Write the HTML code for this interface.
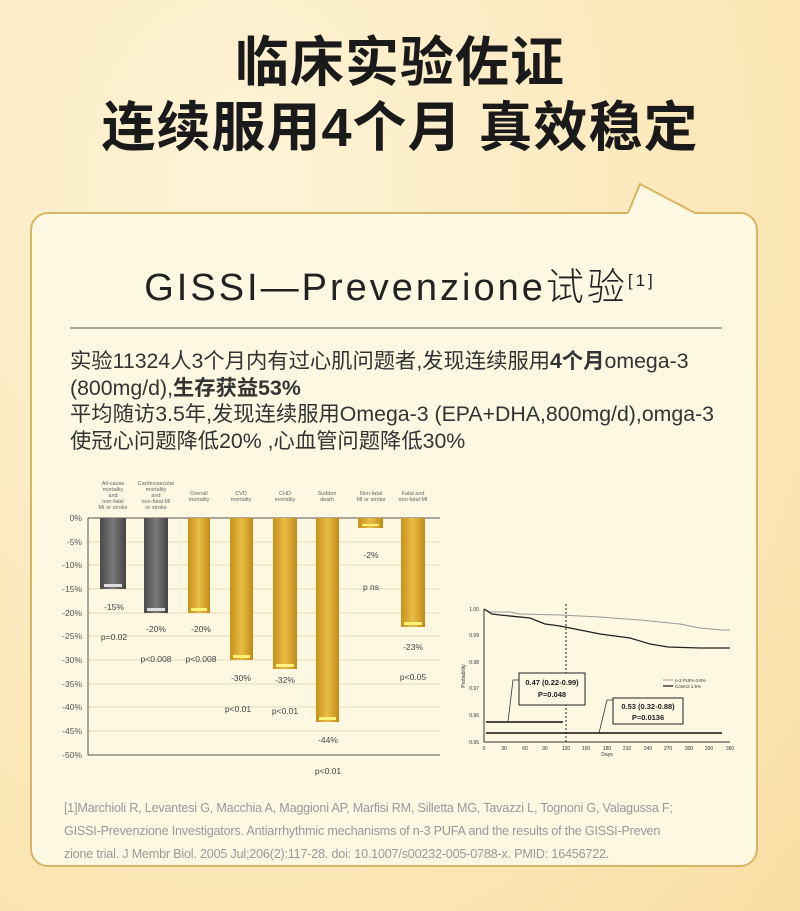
<!DOCTYPE html>
<html><head><meta charset="utf-8"><style>
body{margin:0;width:800px;height:911px;overflow:hidden;background:radial-gradient(ellipse at 30% 20%,#fdf3d6,#fbe6b4 70%,#f9dea3);font-family:"Liberation Sans","Noto Sans CJK SC",sans-serif;position:relative}
.h{position:absolute;left:0;width:800px;text-align:center;font-weight:bold;font-size:54px;color:#1a1a1a;letter-spacing:1px;line-height:60px}
.card{position:absolute;left:30px;top:212px;width:728px;height:655px;border:2px solid #d8b565;border-radius:18px;background:#fdf8e2;box-sizing:border-box}
.t{position:absolute;left:0;width:800px;top:256px;text-align:center;font-size:38px;color:#222;letter-spacing:3px;font-family:"Liberation Sans","Noto Sans CJK SC",sans-serif;font-weight:300}
.p{position:absolute;left:70px;top:348px;font-size:21.3px;line-height:26.5px;color:#333;width:700px;white-space:nowrap}
.ref{position:absolute;left:64px;top:797px;font-size:12.6px;line-height:23px;color:#999;white-space:nowrap;letter-spacing:-0.2px}
</style></head><body>
<div class="h" style="top:33px">临床实验佐证</div>
<div class="h" style="top:98px">连续服用4个月 真效稳定</div>
<div class="card"></div>
<svg style="position:absolute;left:0;top:0" width="800" height="911">
<polygon points="628,214 640,184 695,214" fill="#fdf8e2"/>
<polyline points="628,213 640,184 695,213" fill="none" stroke="#d8b565" stroke-width="2"/>
<line x1="70" y1="328" x2="722" y2="328" stroke="#555" stroke-width="1"/>
</svg>
<div class="t">GISSI—Prevenzione试验<sup style="font-size:17px;vertical-align:14px">[1]</sup></div>
<div class="p">实验11324人3个月内有过心肌问题者,发现连续服用<b>4个月</b>omega-3<br>(800mg/d),<b>生存获益53%</b><br>平均随访3.5年,发现连续服用Omega-3 (EPA+DHA,800mg/d),omga-3<br>使冠心问题降低20% ,心血管问题降低30%</div>
<svg style="position:absolute;left:0;top:0" width="800" height="911" font-family="Liberation Sans,sans-serif">
<defs>
<linearGradient id="g" x1="0" x2="1"><stop offset="0" stop-color="#c8901a"/><stop offset=".5" stop-color="#e9bd45"/><stop offset="1" stop-color="#c28a17"/></linearGradient>
<linearGradient id="k" x1="0" x2="1"><stop offset="0" stop-color="#4a4a4a"/><stop offset=".5" stop-color="#7a7a7a"/><stop offset="1" stop-color="#444"/></linearGradient>
</defs>
<g stroke="#e8dcb8" stroke-width="1">
<line x1="88" y1="542" x2="440" y2="542"/><line x1="88" y1="565" x2="440" y2="565"/><line x1="88" y1="589" x2="440" y2="589"/><line x1="88" y1="613" x2="440" y2="613"/><line x1="88" y1="636" x2="440" y2="636"/><line x1="88" y1="660" x2="440" y2="660"/><line x1="88" y1="684" x2="440" y2="684"/><line x1="88" y1="707" x2="440" y2="707"/><line x1="88" y1="731" x2="440" y2="731"/>
</g>
<line x1="88" y1="518" x2="440" y2="518" stroke="#555"/>
<line x1="88" y1="755" x2="440" y2="755" stroke="#555"/>
<line x1="88" y1="518" x2="88" y2="755" stroke="#555"/>
<g font-size="8.5" fill="#555" text-anchor="end">
<text x="82" y="521">0%</text><text x="82" y="545">-5%</text><text x="82" y="568">-10%</text><text x="82" y="592">-15%</text><text x="82" y="616">-20%</text><text x="82" y="639">-25%</text><text x="82" y="663">-30%</text><text x="82" y="687">-35%</text><text x="82" y="710">-40%</text><text x="82" y="734">-45%</text><text x="82" y="758">-50%</text>
</g>
<rect x="100" y="518" width="26" height="71" fill="url(#k)"/><rect x="104" y="584" width="18" height="3" fill="#ddd"/>
<rect x="144" y="518" width="24" height="95" fill="url(#k)"/><rect x="147" y="608" width="18" height="3" fill="#ddd"/>
<rect x="188" y="518" width="22" height="95" fill="url(#g)"/><rect x="191" y="608" width="16" height="3" fill="#fff27a"/>
<rect x="230" y="518" width="23" height="142" fill="url(#g)"/><rect x="233" y="655" width="17" height="3" fill="#fff27a"/>
<rect x="273" y="518" width="24" height="151" fill="url(#g)"/><rect x="276" y="664" width="18" height="3" fill="#fff27a"/>
<rect x="316" y="518" width="23" height="204" fill="url(#g)"/><rect x="319" y="717" width="17" height="3" fill="#fff27a"/>
<rect x="358" y="518" width="25" height="10" fill="url(#g)"/><rect x="362" y="524" width="17" height="2" fill="#fff27a"/>
<rect x="401" y="518" width="24" height="109" fill="url(#g)"/><rect x="404" y="622" width="18" height="3" fill="#fff27a"/>
<g font-size="5.5" fill="#666" text-anchor="middle">
<text x="113" y="485">All-cause</text><text x="113" y="491">mortality</text><text x="113" y="497">and</text><text x="113" y="503">non-fatal</text><text x="113" y="509">MI or stroke</text>
<text x="156" y="485">Cardiovascular</text><text x="156" y="491">mortality</text><text x="156" y="497">and</text><text x="156" y="503">non-fatal MI</text><text x="156" y="509">or stroke</text>
<text x="199" y="495">Overall</text><text x="199" y="501">mortality</text>
<text x="241" y="495">CVD</text><text x="241" y="501">mortality</text>
<text x="285" y="495">CHD</text><text x="285" y="501">mortality</text>
<text x="327" y="495">Sudden</text><text x="327" y="501">death</text>
<text x="371" y="495">Non-fatal</text><text x="371" y="501">MI or stroke</text>
<text x="413" y="495">Fatal and</text><text x="413" y="501">non-fatal MI</text>
</g>
<g font-size="8.5" fill="#444" text-anchor="middle">
<text x="114" y="610">-15%</text><text x="114" y="640">p=0.02</text>
<text x="156" y="632">-20%</text><text x="156" y="662">p&lt;0.008</text>
<text x="201" y="632">-20%</text><text x="201" y="662">p&lt;0.008</text>
<text x="241" y="681">-30%</text><text x="238" y="712">p&lt;0.01</text>
<text x="285" y="683">-32%</text><text x="285" y="714">p&lt;0.01</text>
<text x="328" y="743">-44%</text><text x="328" y="774">p&lt;0.01</text>
<text x="371" y="558">-2%</text><text x="371" y="590">p ns</text>
<text x="413" y="650">-23%</text><text x="413" y="680">p&lt;0.05</text>
</g>
<line x1="484" y1="609" x2="484" y2="742" stroke="#333"/>
<line x1="484" y1="742" x2="730" y2="742" stroke="#333"/>
<g font-size="5" fill="#333" text-anchor="end"><text x="479" y="611">1.00</text><text x="479" y="637">0.99</text><text x="479" y="664">0.98</text><text x="479" y="690">0.97</text><text x="479" y="717">0.96</text><text x="479" y="744">0.95</text></g>
<g font-size="5" fill="#333" text-anchor="middle">
<text x="484" y="750">0</text><text x="504" y="750">30</text><text x="525" y="750">60</text><text x="545" y="750">90</text><text x="566" y="750">120</text><text x="586" y="750">150</text><text x="607" y="750">180</text><text x="627" y="750">210</text><text x="648" y="750">240</text><text x="668" y="750">270</text><text x="689" y="750">300</text><text x="709" y="750">330</text><text x="730" y="750">360</text><text x="607" y="756">Days</text></g>
<text x="465" y="676" font-size="5" fill="#333" transform="rotate(-90 465 676)" text-anchor="middle">Probability</text>
<polyline points="484,609 490,612 510,612 520,614 560,615 600,617 640,620 680,624 700,628 722,630 730,630" fill="none" stroke="#999" stroke-width="1"/>
<polyline points="484,609 492,614 500,615 530,618 545,624 560,626 580,630 600,634 630,638 650,644 668,647 700,648 730,648" fill="none" stroke="#222" stroke-width="1.3"/>
<line x1="566" y1="604" x2="566" y2="742" stroke="#222" stroke-dasharray="2,2"/>
<line x1="486" y1="722" x2="563" y2="722" stroke="#111" stroke-width="1.5"/>
<line x1="486" y1="733" x2="722" y2="733" stroke="#111" stroke-width="1.5"/>
<polyline points="508,722 513,680 520,680" fill="none" stroke="#333" stroke-width=".8"/>
<polyline points="599,733 607,700 613,700" fill="none" stroke="#333" stroke-width=".8"/>
<rect x="519" y="673" width="66" height="32" fill="#fdf8e2" stroke="#222"/>
<text x="552" y="685" font-size="7.5" font-weight="bold" text-anchor="middle" fill="#222">0.47 (0.22-0.99)</text>
<text x="552" y="697" font-size="7.5" font-weight="bold" text-anchor="middle" fill="#222">P=0.048</text>
<rect x="613" y="698" width="70" height="26" fill="#fdf8e2" stroke="#222"/>
<text x="648" y="709" font-size="7.5" font-weight="bold" text-anchor="middle" fill="#222">0.53 (0.32-0.88)</text>
<text x="648" y="720" font-size="7.5" font-weight="bold" text-anchor="middle" fill="#222">P=0.0136</text>
<line x1="663" y1="680" x2="673" y2="680" stroke="#999"/><text x="675" y="682" font-size="4.5" fill="#333">n-3 PUFA 0.8%</text>
<line x1="663" y1="686" x2="673" y2="686" stroke="#222" stroke-width="1.3"/><text x="675" y="688" font-size="4.5" fill="#333">Control   1.5%</text>
</svg>
<div class="ref">[1]Marchioli R, Levantesi G, Macchia A, Maggioni AP, Marfisi RM, Silletta MG, Tavazzi L, Tognoni G, Valagussa F;<br>GISSI-Prevenzione Investigators. Antiarrhythmic mechanisms of n-3 PUFA and the results of the GISSI-Preven<br>zione trial. J Membr Biol. 2005 Jul;206(2):117-28. doi: 10.1007/s00232-005-0788-x. PMID: 16456722.</div>
</body></html>
